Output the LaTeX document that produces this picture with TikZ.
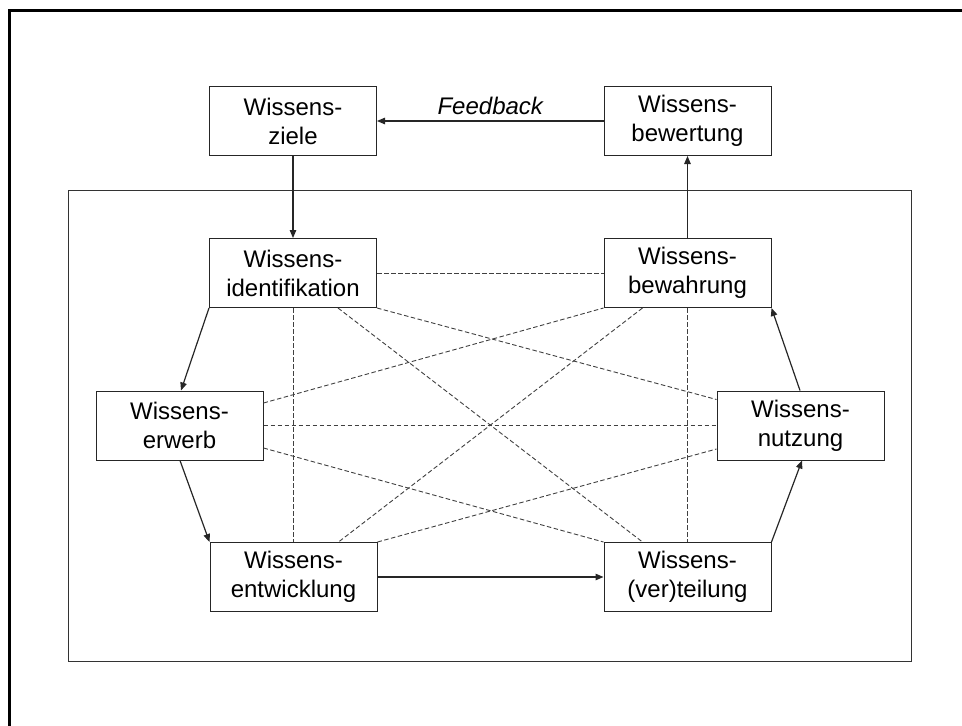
\documentclass[tikz,border=0pt]{standalone}
\usepackage{fontspec}
\setmainfont{Liberation Sans}
\usetikzlibrary{arrows.meta}
\begin{document}
\begin{tikzpicture}[x=1pt,y=-1pt,
  box/.style={draw=black!85,line width=1pt,rectangle,minimum width=167pt,minimum height=69pt,inner sep=0pt,align=center,font=\fontsize{24}{29}\selectfont},
  flow/.style={draw=black!85,line width=1.2pt,-{Triangle[length=8pt,width=6.5pt]}},
  link/.style={draw=black!75,line width=0.9pt,dash pattern=on 4.5pt off 2.5pt}]
\useasboundingbox (0,0) rectangle (962,726);
\clip (0,0) rectangle (962,726);
\draw[line width=3pt] (9,10) rectangle (990,760);
\draw[line width=1pt,draw=black!80] (68,190) rectangle (911,661);
\node[box] (ziele) at (293,121) {Wissens-\\ziele};
\node[box] (bewertung) at (687.5,121) {Wissens-\\bewertung};
\node[box] (ident) at (293,273) {Wissens-\\identifikation};
\node[box] (bewahrung) at (687.5,273) {Wissens-\\bewahrung};
\node[box] (erwerb) at (179.5,425.5) {Wissens-\\erwerb};
\node[box] (nutzung) at (800.5,425.5) {Wissens-\\nutzung};
\node[box] (entw) at (293.5,577) {Wissens-\\entwicklung};
\node[box] (vert) at (687.5,577) {Wissens-\\(ver)teilung};
% dashed links
\draw[link] (ident.east) -- (bewahrung.west);
\draw[link] (ident.south) -- (entw.north -| ident.south);
\draw[link] (bewahrung.south) -- (vert.north -| bewahrung.south);
\draw[link] (erwerb.east) -- (nutzung.west);
\draw[link] (ident.south east) -- ([yshift=26pt]nutzung.west);
\draw[link] ([xshift=45pt]ident.south) -- ([xshift=-45pt]vert.north);
\draw[link] ([yshift=22.5pt]erwerb.east) -- (bewahrung.south west);
\draw[link] ([xshift=-45pt]bewahrung.south) -- ([xshift=45pt]entw.north);
\draw[link] ([yshift=-22.5pt]erwerb.east) -- (vert.north west);
\draw[link] (entw.north east) -- ([yshift=-23.5pt]nutzung.west);
% solid arrows
\draw[flow] (ziele.south) -- (ident.north);
\draw[flow] (bewahrung.north) -- (bewertung.south);
\draw[flow] (bewertung.west) -- node[above=2pt,font=\fontsize{24}{29}\selectfont\itshape] (fb) {Feedback} (ziele.east);
\draw[flow] (ident.south west) -- ([xshift=1.5pt]erwerb.north);
\draw[flow] ([xshift=0.5pt]erwerb.south) -- (entw.north west);
\draw[flow] (entw.east) -- (vert.west);
\draw[flow] (vert.north east) -- ([xshift=1.5pt]nutzung.south);
\draw[flow] ([xshift=-0.5pt]nutzung.north) -- (bewahrung.south east);
\end{tikzpicture}
\end{document}
